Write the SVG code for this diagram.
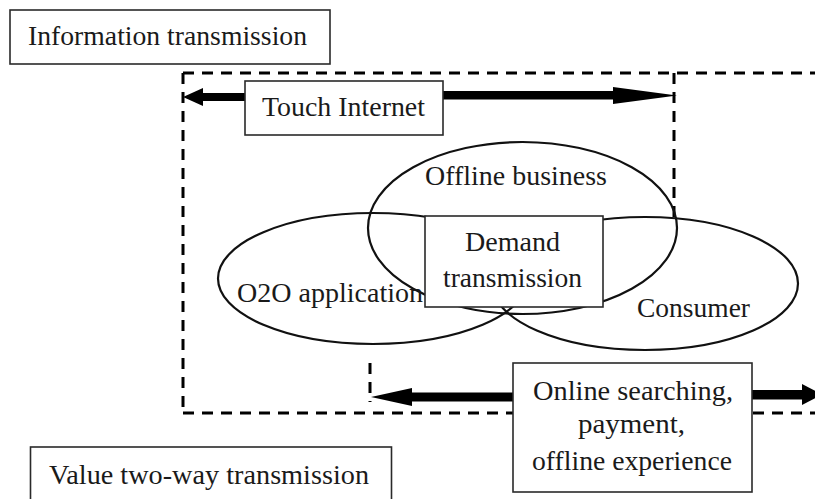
<svg xmlns="http://www.w3.org/2000/svg" width="815" height="499" viewBox="0 0 815 499">
<style>
  .box { fill: #fff; stroke: #2a2a2a; stroke-width: 1.6; }
  .ell { fill: none; stroke: #111; stroke-width: 2.2; }
  .dash { fill: none; stroke: #000; stroke-width: 3; stroke-dasharray: 11 8; }
  .t { font-family: "Liberation Serif", "Times New Roman", serif; font-size: 27px; fill: #1a1a1a; }
  .arr { fill: #000; stroke: none; }
</style>
<rect width="815" height="499" fill="#fff"/>

<g id="dashed-frames">
  <path class="dash" d="M183,73 H815"/>
  <path class="dash" d="M183,73 V413"/>
  <path class="dash" d="M183,413 H815"/>
  <path class="dash" d="M674,73 V218"/>
  <path class="dash" d="M370,363 V402"/>
</g>

<g id="offline-business">
  <ellipse class="ell" cx="522.5" cy="228" rx="154.5" ry="86"/>
  <text class="t" x="425" y="185" textLength="182" lengthAdjust="spacingAndGlyphs">Offline business</text>
</g>
<g id="o2o-application">
  <ellipse class="ell" cx="373" cy="278.5" rx="155" ry="65.5"/>
  <text class="t" x="237" y="302" textLength="186" lengthAdjust="spacingAndGlyphs">O2O application</text>
</g>
<g id="consumer">
  <ellipse class="ell" cx="645" cy="283.5" rx="153" ry="66.5"/>
  <text class="t" x="637" y="317" textLength="113" lengthAdjust="spacingAndGlyphs">Consumer</text>
</g>

<g id="information-transmission">
  <rect class="box" x="10" y="10" width="320" height="54"/>
  <text class="t" x="28" y="45" textLength="279" lengthAdjust="spacingAndGlyphs">Information transmission</text>
</g>

<g id="demand-transmission">
  <rect class="box" x="425" y="216" width="178" height="91"/>
  <text class="t" x="465" y="251" textLength="95" lengthAdjust="spacingAndGlyphs">Demand</text>
  <text class="t" x="443" y="287" textLength="139" lengthAdjust="spacingAndGlyphs">transmission</text>
</g>

<g id="connectors">
  <rect class="arr" x="200" y="93" width="46" height="8"/>
  <polygon class="arr" points="183,97 203,88 203,106"/>
  <rect class="arr" x="442" y="91" width="174" height="8.5"/>
  <polygon class="arr" points="613,87 677,95.5 613,104"/>
  <rect class="arr" x="410" y="392.5" width="104" height="9"/>
  <polygon class="arr" points="371,397 412,388 412,406"/>
  <rect class="arr" x="751" y="390" width="53" height="9.5"/>
  <polygon class="arr" points="802,384 822,394.5 802,405"/>
</g>

<g id="touch-internet">
  <rect class="box" x="245" y="81" width="198" height="54"/>
  <text class="t" x="262" y="116" textLength="163" lengthAdjust="spacingAndGlyphs">Touch Internet</text>
</g>

<g id="online-searching">
  <rect class="box" x="513" y="363" width="239" height="129"/>
  <text class="t" x="533" y="400" textLength="200" lengthAdjust="spacingAndGlyphs">Online searching,</text>
  <text class="t" x="578" y="433" textLength="107" lengthAdjust="spacingAndGlyphs">payment,</text>
  <text class="t" x="532" y="470" textLength="200" lengthAdjust="spacingAndGlyphs">offline experience</text>
</g>

<g id="value-two-way-transmission">
  <rect class="box" x="30.5" y="447" width="361" height="60"/>
  <text class="t" x="49" y="484" textLength="320" lengthAdjust="spacingAndGlyphs">Value two-way transmission</text>
</g>
</svg>
